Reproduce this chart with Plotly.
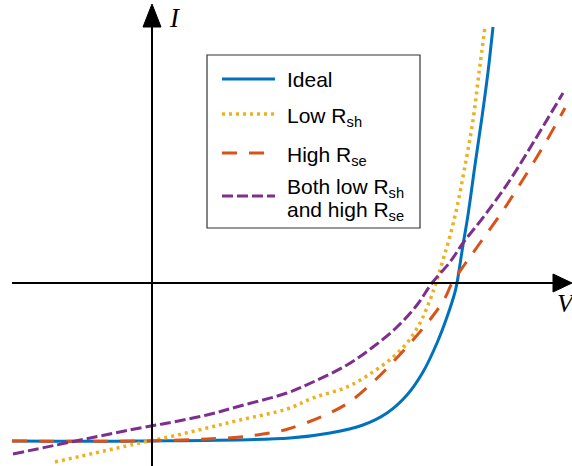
import plotly.graph_objects as go

# ---- data (arbitrary units: V horizontal, I vertical) ----
ideal_v = [-140, -12, 138, 178, 211, 235, 255, 271, 285, 295, 303, 305, 311, 316, 323, 330, 336, 341]
ideal_i = [-158, -158, -155, -150, -142, -130, -112, -89, -60, -34, -9, 0, 38, 68, 118, 166, 211, 256]

lowrsh_v = [-97, -12, 21, 55, 88, 135, 161, 195, 221, 241, 255, 268, 278, 284, 291, 298, 305, 313, 321, 327, 333]
lowrsh_i = [-179, -160, -153, -145, -137, -126, -115, -104, -89, -74, -60, -40, -17, 0, 23, 47, 76, 117, 163, 210, 256]

highrse_v = [-140, -12, 55, 88, 111, 136, 171, 196, 220, 241, 261, 280, 293, 300, 313, 328, 350, 365, 380, 395, 413]
highrse_i = [-158, -158, -156, -154, -151, -146, -133, -120, -100, -79, -57, -34, -15, 0, 19, 40, 71, 94, 118, 143, 175]

both_v = [-139, -12, 21, 55, 88, 135, 161, 195, 221, 245, 265, 280, 298, 311, 333, 358, 381, 411]
both_i = [-171, -145, -139, -132, -123, -110, -99, -82, -64, -44, -22, 0, 21, 40, 68, 103, 140, 190]

names = ["Ideal", "Low R<sub>sh</sub>", "High R<sub>se</sub>", "Both low R<sub>sh</sub>"]
colors = ["#0072BD", "#EDB120", "#D95319", "#7E2F8E"]
dashes = ["solid", "3px,4px", "15px,12px", "11px,4px"]
widths = [3, 3.5, 3, 3]

series = [(ideal_v, ideal_i), (lowrsh_v, lowrsh_i), (highrse_v, highrse_i), (both_v, both_i)]

fig = go.Figure()
for (xv, yv), n, c, d, w in zip(series, names, colors, dashes, widths):
    fig.add_trace(go.Scatter(x=xv, y=yv, mode="lines", name=n,
                             line=dict(color=c, dash=d, width=w, shape="spline", smoothing=1.0),
                             showlegend=False, hoverinfo="skip"))

shapes = []
ann = []
# axes with arrowheads
shapes.append(dict(type="line", x0=-140, y0=0, x1=403, y1=0, line=dict(color="black", width=2)))
shapes.append(dict(type="path", path="M 420,0 L 401,9 L 401,-9 Z", fillcolor="black", line=dict(color="black", width=1)))
shapes.append(dict(type="line", x0=0, y0=-183, x1=0, y1=258, line=dict(color="black", width=2)))
shapes.append(dict(type="path", path="M 0,279 L -9,256 L 9,256 Z", fillcolor="black", line=dict(color="black", width=1)))

ann.append(dict(x=23, y=265, text="<i>I</i>", showarrow=False, xanchor="center", yanchor="middle",
                font=dict(family="Liberation Serif", size=27, color="black")))
ann.append(dict(x=403, y=-20, text="<i>V</i>", showarrow=False, xanchor="left", yanchor="middle",
                font=dict(family="Liberation Serif", size=26, color="black")))

# legend box (drawn manually)
shapes.append(dict(type="rect", x0=55, x1=268, y0=283 - 228, y1=283 - 55,
                   line=dict(color="#333333", width=1.2), fillcolor="white", layer="above"))

leg_y = [283 - 79, 283 - 114, 283 - 153, 283 - 196]
for yv, c, d, w in zip(leg_y, colors, dashes, widths):
    shapes.append(dict(type="line", x0=70, x1=123, y0=yv, y1=yv, layer="above",
                       line=dict(color=c, dash=d, width=w)))

txt_font = dict(family="Liberation Sans", size=21, color="black")
ann.append(dict(x=133, y=283 - 79, text="Ideal", showarrow=False, xanchor="left", yanchor="middle", font=txt_font))
ann.append(dict(x=133, y=283 - 117, text="Low R<sub>sh</sub>", showarrow=False, xanchor="left", yanchor="middle", font=txt_font))
ann.append(dict(x=133, y=283 - 156, text="High R<sub>se</sub>", showarrow=False, xanchor="left", yanchor="middle", font=txt_font))
ann.append(dict(x=133, y=283 - 188, text="Both low R<sub>sh</sub>", showarrow=False, xanchor="left", yanchor="middle", font=txt_font))
ann.append(dict(x=133, y=283 - 211, text="and high R<sub>se</sub>", showarrow=False, xanchor="left", yanchor="middle", font=txt_font))

fig.update_layout(
    width=572, height=466,
    margin=dict(l=0, r=0, t=0, b=0),
    paper_bgcolor="white", plot_bgcolor="white",
    xaxis=dict(range=[-152, 420], visible=False, fixedrange=True),
    yaxis=dict(range=[-183, 283], visible=False, fixedrange=True),
    shapes=shapes, annotations=ann, showlegend=False,
)

fig.write_html("out.html")
